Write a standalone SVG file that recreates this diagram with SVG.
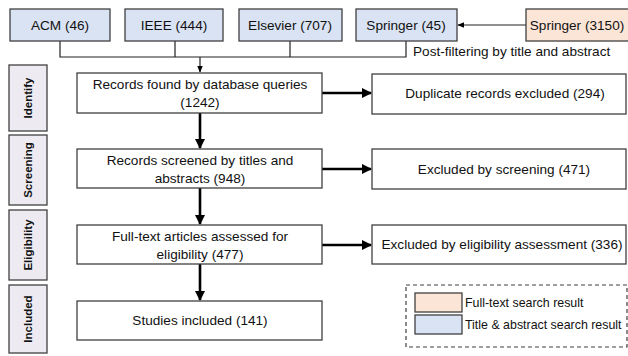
<svg xmlns="http://www.w3.org/2000/svg" width="628" height="356" viewBox="0 0 628 356">
<style>
text{font-family:"Liberation Sans",Arial,sans-serif;font-size:13.6px;fill:#111}
.box{fill:#fff;stroke:#404040;stroke-width:1.3}
.blue{fill:#dae3f3;stroke:#404040;stroke-width:1.3}
.peach{fill:#fbe5d6;stroke:#404040;stroke-width:1.3}
.stage{fill:#edebf1;stroke:#404040;stroke-width:1.3}
.stg{font-weight:bold;font-size:11.5px}
.thin{stroke:#222;stroke-width:1.2;fill:none}
.thick{stroke:#000;stroke-width:2.6;fill:none}
.lg{font-size:12.4px}
</style>
<defs>
<marker id="ah" viewBox="0 0 10 10" refX="9" refY="5" markerWidth="4" markerHeight="4" orient="auto"><path d="M0,0L10,5L0,10z" fill="#000"/></marker>
<marker id="ahs" viewBox="0 0 10 10" refX="9" refY="5" markerWidth="7" markerHeight="7" markerUnits="userSpaceOnUse" orient="auto"><path d="M0,1L10,5L0,9z" fill="#000"/></marker>
</defs>
<g id="connectors">
<path class="thin" d="M60,41V57H406V41M175,41V57M290,41V57"/>
<path class="thin" d="M200,57V72" marker-end="url(#ahs)"/>
<path class="thin" d="M526,25H458" marker-end="url(#ahs)"/>
<path class="thick" d="M200,113V148" marker-end="url(#ah)"/>
<path class="thick" d="M200,188V224" marker-end="url(#ah)"/>
<path class="thick" d="M200,264V300" marker-end="url(#ah)"/>
<path class="thick" d="M322,93H371" marker-end="url(#ah)"/>
<path class="thick" d="M322,169H371" marker-end="url(#ah)"/>
<path class="thick" d="M322,245H371" marker-end="url(#ah)"/>
</g>
<g id="acm"><rect class="blue" x="10" y="9" width="100" height="32"/><text x="60" y="30" text-anchor="middle">ACM (46)</text></g>
<g id="ieee"><rect class="blue" x="125" y="9" width="98" height="32"/><text x="174" y="30" text-anchor="middle">IEEE (444)</text></g>
<g id="elsevier"><rect class="blue" x="239" y="9" width="103" height="32"/><text x="290" y="30" text-anchor="middle">Elsevier (707)</text></g>
<g id="springer45"><rect class="blue" x="356" y="9" width="101" height="32"/><text x="406" y="30" text-anchor="middle">Springer (45)</text></g>
<g id="springer3150"><rect class="peach" x="526" y="9" width="110" height="32"/><text x="577" y="30" text-anchor="middle">Springer (3150)</text></g>
<text id="postfilter" x="413" y="56">Post-filtering by title and abstract</text>
<g id="stage-identify"><rect class="stage" x="9" y="65" width="38" height="66"/><text class="stg" transform="translate(32,98) rotate(-90)" text-anchor="middle">Identify</text></g>
<g id="stage-screening"><rect class="stage" x="9" y="135" width="38" height="70"/><text class="stg" transform="translate(32,170) rotate(-90)" text-anchor="middle">Screening</text></g>
<g id="stage-eligibility"><rect class="stage" x="9" y="210" width="38" height="70"/><text class="stg" transform="translate(32,245) rotate(-90)" text-anchor="middle">Eligibility</text></g>
<g id="stage-included"><rect class="stage" x="9" y="285" width="38" height="68"/><text class="stg" transform="translate(32,319) rotate(-90)" text-anchor="middle">Included</text></g>
<g id="records-found"><rect class="box" x="77" y="73" width="245" height="40"/><text x="200" y="89" text-anchor="middle">Records found by database queries</text><text x="200" y="107" text-anchor="middle">(1242)</text></g>
<g id="records-screened"><rect class="box" x="77" y="149" width="245" height="39"/><text x="200" y="165" text-anchor="middle">Records screened by titles and</text><text x="200" y="183" text-anchor="middle">abstracts (948)</text></g>
<g id="fulltext"><rect class="box" x="77" y="225" width="245" height="39"/><text x="200" y="241" text-anchor="middle">Full-text articles assessed for</text><text x="200" y="259" text-anchor="middle">eligibility (477)</text></g>
<g id="studies"><rect class="box" x="77" y="301" width="245" height="39"/><text x="200" y="325" text-anchor="middle">Studies included (141)</text></g>
<g id="duplicates"><rect class="box" x="372" y="74" width="254" height="40"/><text x="505" y="98" text-anchor="middle">Duplicate records excluded (294)</text></g>
<g id="excl-screening"><rect class="box" x="372" y="149" width="254" height="40"/><text x="504" y="174" text-anchor="middle">Excluded by screening (471)</text></g>
<g id="excl-eligibility"><rect class="box" x="372" y="225" width="254" height="39"/><text x="502" y="249" text-anchor="middle">Excluded by eligibility assessment (336)</text></g>
<g id="legend">
<rect x="406" y="285" width="221" height="62" fill="#fff" stroke="#404040" stroke-width="1.2" stroke-dasharray="4,3"/>
<rect class="peach" x="415" y="293" width="47" height="19"/>
<text class="lg" x="465" y="307">Full-text search result</text>
<rect class="blue" x="415" y="315" width="47" height="19"/>
<text class="lg" x="465" y="329">Title &amp; abstract search result</text>
</g>
</svg>
